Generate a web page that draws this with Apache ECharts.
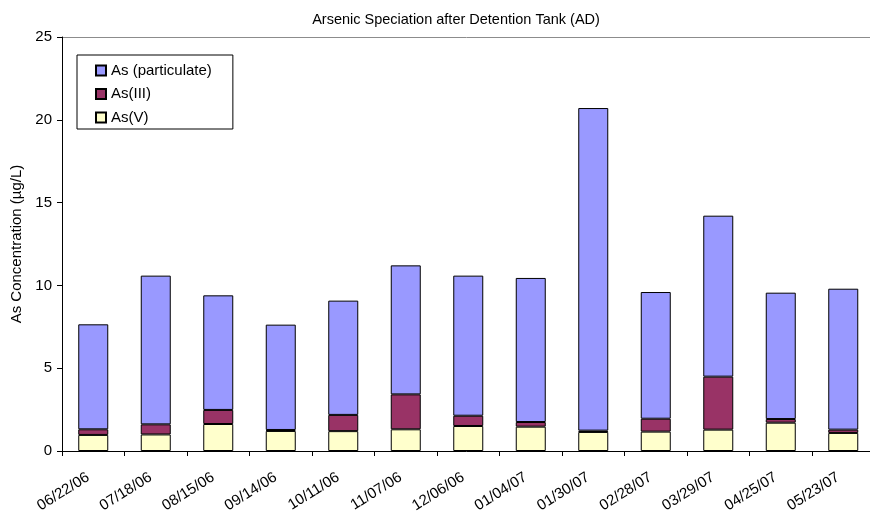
<!DOCTYPE html>
<html>
<head>
<meta charset="utf-8">
<script src="https://cdn.jsdelivr.net/npm/echarts@6/dist/echarts.min.js"></script>
<style>
  html, body { margin: 0; padding: 0; background: #fff; }
  #chart { width: 870px; height: 514px; }
</style>
</head>
<body>
<div id="chart"></div>
<script>
// Sampling dates
const dates = ['06/22/06', '07/18/06', '08/15/06', '09/14/06', '10/11/06', '11/07/06', '12/06/06',
               '01/04/07', '01/30/07', '02/28/07', '03/29/07', '04/25/07', '05/23/07'];

// Arsenic fractions, µg/L
const asV = [0.97, 1.00, 1.63, 1.21, 1.20, 1.31, 1.51, 1.47, 1.15, 1.17, 1.29, 1.71, 1.09];
const asIII = [0.34, 0.61, 0.85, 0.06, 0.98, 2.11, 0.62, 0.28, 0.08, 0.78, 3.20, 0.22, 0.20];
const asPart = [6.34, 8.98, 6.92, 6.36, 6.90, 7.79, 8.46, 8.70, 19.48, 7.65, 9.72, 7.63, 8.51];

// Axis scale
const yMin = 0, yMax = 25, yStep = 5;

const font = 'Arial, "Liberation Sans", sans-serif';
const chart = echarts.init(document.getElementById('chart'), null, { renderer: 'canvas' });

const barStyle = (color) => ({ color: color, borderColor: '#000', borderWidth: 1 });

chart.setOption({
  animation: false,
  backgroundColor: '#fff',
  title: {
    text: 'Arsenic Speciation after Detention Tank (AD)',
    left: 451, top: 7, textAlign: 'center',
    textStyle: { fontFamily: font, fontSize: 14.5, fontWeight: 'normal', color: '#000' }
  },
  legend: {
    orient: 'vertical',
    left: 77, top: 55,
    padding: [8, 21, 4, 18],
    itemGap: 8.5,
    itemWidth: 10, itemHeight: 10,
    icon: 'rect',
    backgroundColor: '#fff',
    borderColor: '#000', borderWidth: 1, borderRadius: 0,
    data: ['As (particulate)', 'As(III)', 'As(V)'],
    textStyle: { fontFamily: font, fontSize: 15, color: '#000' }
  },
  grid: { left: 62, top: 37, width: 812.5, height: 414, outerBoundsMode: 'none' },
  xAxis: {
    type: 'category',
    data: dates,
    axisLine: { lineStyle: { color: '#000', width: 1 } },
    axisTick: { show: true, length: 5, lineStyle: { color: '#000' } },
    axisLabel: {
      rotate: 32, margin: 22, interval: 0,
      fontFamily: font, fontSize: 15, color: '#000',
      padding: [0, 6, 0, 0]
    }
  },
  yAxis: {
    type: 'value',
    min: yMin, max: yMax, interval: yStep,
    name: 'As Concentration (µg/L)',
    nameLocation: 'middle', nameGap: 38,
    nameTextStyle: { fontFamily: font, fontSize: 15, color: '#000' },
    axisLine: { show: true, lineStyle: { color: '#000', width: 1 } },
    axisTick: { show: true, length: 5, lineStyle: { color: '#000' } },
    axisLabel: { margin: 10, fontFamily: font, fontSize: 15, color: '#000' },
    splitLine: {
      show: true,
      lineStyle: { color: ['transparent', 'transparent', 'transparent', 'transparent', 'transparent', '#8c8c8c'], width: 1 }
    }
  },
  series: [
    { name: 'As(V)', type: 'bar', stack: 'as', barWidth: 30, data: asV, itemStyle: barStyle('#FFFFCC') },
    { name: 'As(III)', type: 'bar', stack: 'as', barWidth: 30, data: asIII, itemStyle: barStyle('#993366') },
    { name: 'As (particulate)', type: 'bar', stack: 'as', barWidth: 30, data: asPart, itemStyle: barStyle('#9999FF') }
  ]
});
</script>
</body>
</html>
